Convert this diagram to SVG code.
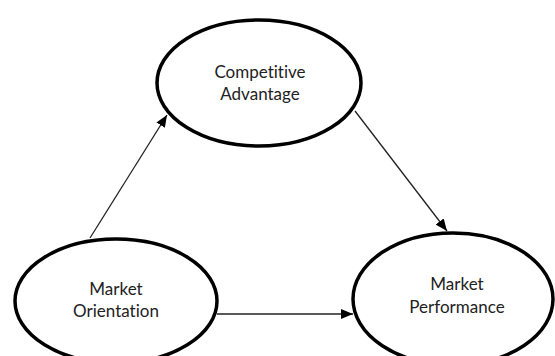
<svg xmlns="http://www.w3.org/2000/svg" width="555" height="356" viewBox="0 0 555 356">
<defs>
<style>
.node ellipse{fill:#fff;stroke:#000;stroke-width:3.5}
.node text{font-family:Lato,"Liberation Sans",sans-serif;font-size:17px;fill:#222;text-anchor:middle;font-variant-ligatures:none;font-feature-settings:"liga" 0}
.edge{stroke:#222;stroke-width:1.3;fill:none;marker-end:url(#ah)}
</style>
<marker id="ah" viewBox="0 0 12 10" refX="12" refY="5" markerWidth="12" markerHeight="10" markerUnits="userSpaceOnUse" orient="auto">
<path d="M0,0 L12,5 L0,10 Z" fill="#000"/>
</marker>
</defs>
<rect width="555" height="356" fill="#fff"/>
<g id="edges">
<line class="edge" x1="90" y1="238" x2="167" y2="115"/>
<line class="edge" x1="355" y1="111" x2="447" y2="231"/>
<line class="edge" x1="217" y1="314" x2="353" y2="314"/>
</g>
<g id="competitive-advantage" class="node">
<ellipse cx="259" cy="83" rx="102" ry="63"/>
<text x="260" y="78">Competitive</text>
<text x="260" y="100">Advantage</text>
</g>
<g id="market-orientation" class="node">
<ellipse cx="116" cy="301" rx="101" ry="62"/>
<text x="116" y="295">Market</text>
<text x="116" y="317">Orientation</text>
</g>
<g id="market-performance" class="node">
<ellipse cx="453" cy="299" rx="100" ry="66"/>
<text x="457" y="290">Market</text>
<text x="457" y="313">Performance</text>
</g>
</svg>
